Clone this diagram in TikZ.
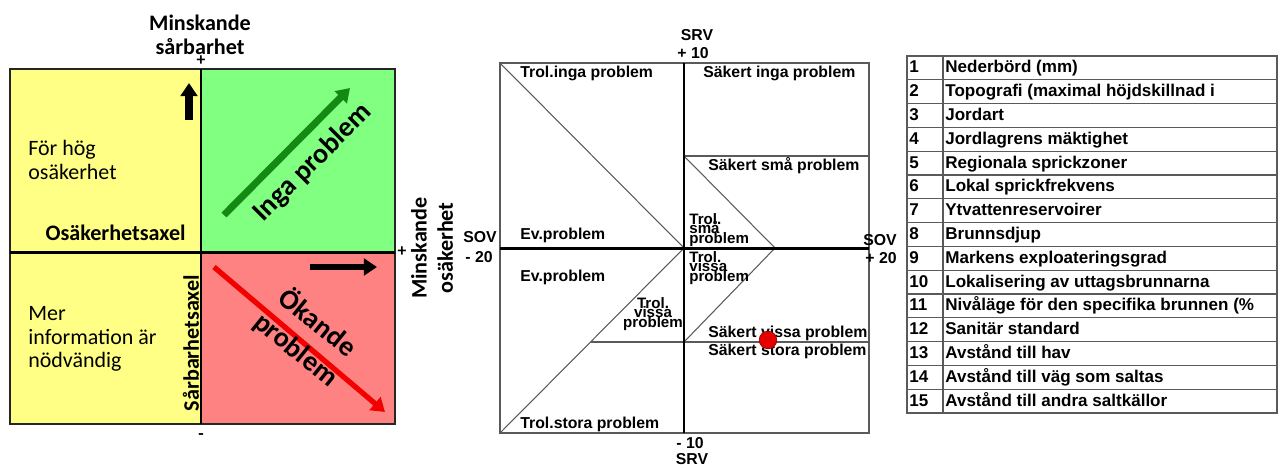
\documentclass[tikz,border=0pt]{standalone}
\usepackage{fontspec}
\setmainfont{Carlito}
\newfontfamily\winfont{Liberation Sans}
\usepackage{tikz}
\usetikzlibrary{arrows.meta}
\definecolor{quadyellow}{HTML}{FFFF85}
\definecolor{quadgreen}{HTML}{80FF80}
\definecolor{quadred}{HTML}{FF8282}
\definecolor{arrowgreen}{HTML}{148A14}
\definecolor{arrowred}{HTML}{F20000}
\definecolor{gridgray}{HTML}{5A5A5A}
\newcommand\squeezelines{\lineskiplimit=-20pt\relax}

\begin{document}
\begin{tikzpicture}[x=0.02cm,y=-0.02cm,
  axis/.style={line width=1.7pt,black},
  frame/.style={draw=gridgray,line width=1pt},
  thinline/.style={draw=gridgray,line width=0.6pt},
  quadtext/.style={font=\fontsize{12.5}{13.5}\selectfont,align=left,anchor=west,inner sep=0pt},
  axlabel/.style={font=\bfseries\fontsize{12.6}{14}\selectfont,align=center,inner sep=0pt},
  signlabel/.style={font=\bfseries\fontsize{10}{10}\selectfont,inner sep=0pt},
  biglabel/.style={font=\bfseries\fontsize{16}{19.5}\selectfont,align=center,inner sep=0pt},
  fatarrow/.style={line width=4pt,-{Triangle[length=7.5pt,width=9.5pt]}},
  zone/.style={font=\winfont\bfseries\fontsize{9}{10}\selectfont,anchor=west,inner sep=0pt},
  stack/.style={font=\winfont\bfseries\fontsize{8.6}{5.4}\selectfont\squeezelines,inner sep=0pt},
  scalelabel/.style={font=\winfont\bfseries\fontsize{9}{10}\selectfont,inner sep=0pt},
  rowtext/.style={font=\winfont\bfseries\fontsize{9.7}{10}\selectfont,anchor=base west,inner sep=0pt}
]
\useasboundingbox (0,0) rectangle (1282,468);

\fill[quadyellow] (10,69) rectangle (201,424);
\fill[quadgreen] (201,69) rectangle (395,252);
\fill[quadred] (201,252) rectangle (395,424);
\draw[line width=1pt,black!85] (10,69) rectangle (395,424);
\draw[axis] (201,69) -- (201,424);
\draw[axis] (10,252) -- (395,252);

\node[axlabel] (vtitle) at (200,35) {Minskande\\sårbarhet};
\node[signlabel] (vplus) at (201,61) {+};
\node[signlabel] (vminus) at (201,437) {-};
\node[signlabel] (hplus) at (402,252) {+};
\node[quadtext] (highunc) at (28,160) {För hög\\osäkerhet};
\node[quadtext] (moreinfo) at (28,339) {Mer\\information är\\nödvändig};
\node[axlabel,anchor=east] (uncaxis) at (186,233) {Osäkerhetsaxel};
\node[axlabel,rotate=90] (vulaxis) at (191,343) {Sårbarhetsaxel};
\node[axlabel,rotate=90,font=\bfseries\fontsize{12.6}{15}\selectfont] (htitle) at (432,248) {Minskande\\osäkerhet};

\draw[fatarrow] (189,120) -- (189,83);
\draw[fatarrow,line width=3.6pt] (310,267) -- (377,267);
\draw[fatarrow,arrowgreen] (224,215) -- (350,88);
\draw[fatarrow,arrowred,line width=3pt] (214,267) -- (385,412);
\node[biglabel,rotate=45] (noprob) at (313,163) {Inga problem};
\node[biglabel,rotate=-39] (incprob) at (307,336) {Ökande\\problem};

\draw[frame] (500,63) rectangle (869,433);
\draw[thinline] (500,63) -- (684,248) -- (500,433);
\draw[thinline] (684,156) -- (869,156);
\draw[thinline] (591,342) -- (869,342);
\draw[thinline] (684,156) -- (775,248) -- (684,342);
\draw[axis] (684,63) -- (684,433);
\draw[axis] (500,248) -- (869,248);

\node[zone] (trolinga) at (520,73) {Trol.inga problem};
\node[zone] (sakinga) at (703,73) {Säkert inga problem};
\node[zone] (saksma) at (708,166) {Säkert små problem};
\node[zone] (evup) at (520,235) {Ev.problem};
\node[zone] (evdown) at (520,277) {Ev.problem};
\node[zone] (sakvissa) at (708,333) {Säkert vissa problem};
\node[zone] (sakstora) at (708,351) {Säkert stora problem};
\node[zone] (trolstora) at (520,424) {Trol.stora problem};
\node[stack,anchor=west,align=left] (trolsma) at (689,230) {Trol.\\små\\problem};
\node[stack,anchor=west,align=left] (trolvissa) at (689,268) {Trol.\\vissa\\problem};
\node[stack,align=center] (trolvissaleft) at (653,314) {Trol.\\vissa\\problem};
\fill[red!90!black,draw=red!60!black,line width=0.4pt] (768,340) circle (5pt);

\node[scalelabel] (srvtop) at (697,35) {SRV};
\node[scalelabel] (srvplus) at (693,53) {+ 10};
\node[scalelabel] (srvminus) at (690,443) {- 10};
\node[scalelabel] (srvbottom) at (692,459) {SRV};
\node[scalelabel] (sovleft) at (480,237) {SOV};
\node[scalelabel] (sovminus) at (479,257) {- 20};
\node[scalelabel] (sovright) at (880,240) {SOV};
\node[scalelabel] (sovplus) at (881,258) {+ 20};

\draw[thinline] (907,56) rectangle (1277,413);
\draw[thinline] (943,56) -- (943,413);
\foreach \r in {1,...,14}
  \draw[thinline] (907,56+23.8*\r) -- (1277,56+23.8*\r);
\begin{scope}
\clip (907,56) rectangle (1276,413);
\foreach \n/\txt in {1/Nederbörd (mm),2/Topografi (maximal höjdskillnad i,3/Jordart,
    4/Jordlagrens mäktighet,5/Regionala sprickzoner,6/Lokal sprickfrekvens,
    7/Ytvattenreservoirer,8/Brunnsdjup,9/Markens exploateringsgrad,
    10/Lokalisering av uttagsbrunnarna,11/Nivåläge för den specifika brunnen (\%,
    12/Sanitär standard,13/Avstånd till hav,14/Avstånd till väg som saltas,
    15/Avstånd till andra saltkällor}
{
  \node[rowtext] (num\n) at (909,56+23.8*\n-7) {\n};
  \node[rowtext] (row\n) at (945,56+23.8*\n-7) {\txt};
}
\end{scope}
\end{tikzpicture}
\end{document}
